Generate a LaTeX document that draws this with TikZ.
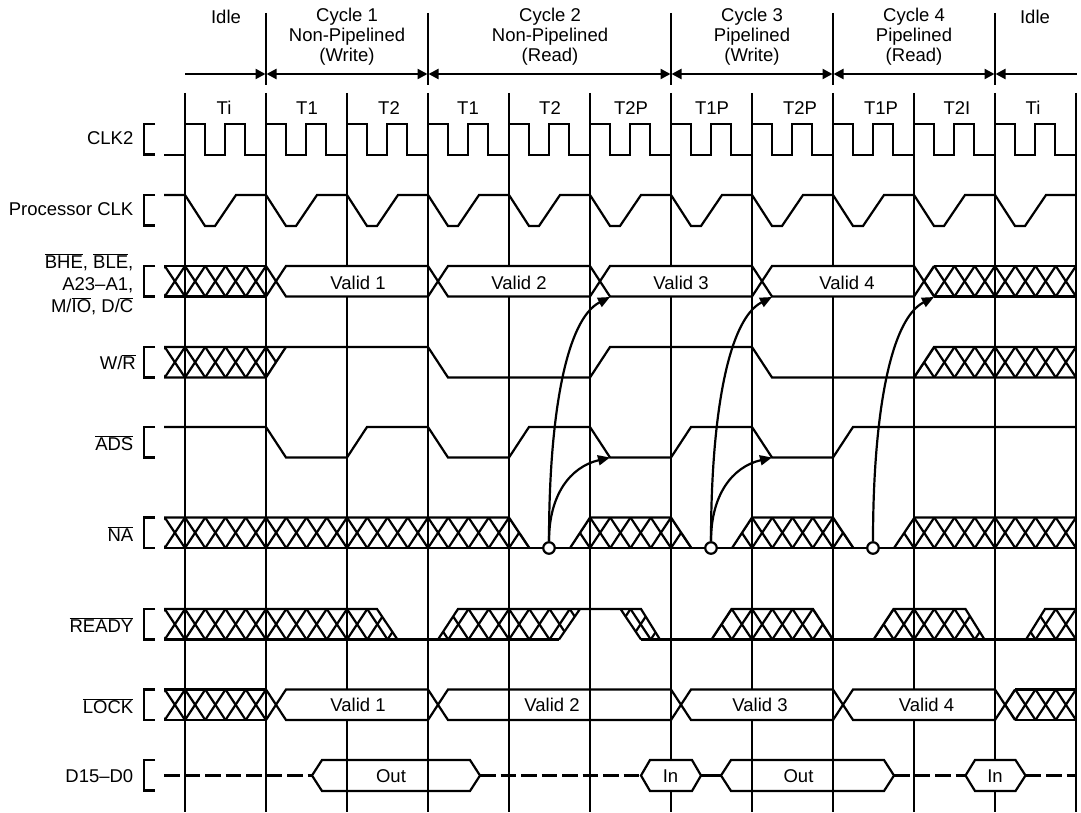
\documentclass[tikz,border=0pt]{standalone}
\usepackage{fontspec}
\setmainfont{Liberation Sans}
\usetikzlibrary{arrows.meta}
\newcommand{\ovl}[1]{$\overline{\mbox{#1}}$}
\tikzset{
  x=1pt,y=-1pt,
  sig/.style={line width=2.2pt,line join=miter,line cap=butt},
  gridline/.style={line width=2.1pt},
  lbl/.style={font=\fontsize{18.5}{20}\selectfont,inner sep=0pt},
  namel/.style={lbl,anchor=east,align=right},
  head/.style={lbl,align=center},
  arr/.style={line width=2.2pt,-{Triangle[length=12pt,width=10pt]}},
  harr/.style={line width=2.2pt,{Triangle[length=10pt,width=10pt]}-{Triangle[length=10pt,width=10pt]}},
  tip/.style={circle,draw,fill=white,line width=2.2pt,minimum size=11.5pt,inner sep=0pt},
  dashline/.style={sig,dash pattern=on 15.5pt off 5pt},
}
% \hatchband{top y}{clip polygon}
\newcommand{\hatchband}[2]{%
  \begin{scope}
    \clip #2;
    \foreach \k in {-2,...,46}{
      \draw[sig,line cap=round] ({185+20.25*\k},#1) -- ({185+20.25*(\k+1)},#1+30.5);
      \draw[sig,line cap=round] ({185+20.25*(\k+1)},#1) -- ({185+20.25*\k},#1+30.5);
    }
  \end{scope}}
% bracket at the left of a row
\newcommand{\rowbracket}[1]{\draw[sig] (155,#1) -- (144,#1) -- (144,#1+30.5) -- (155,#1+30.5);}
% white value box: x0 x1 top
\newcommand{\valbox}[3]{%
  \fill[white] (#1+1.2,#3) rectangle (#2-1.2,#3+30.5);
  \draw[sig] (#1,#3+30.5) -- (#1+20,#3) -- (#2,#3);
  \draw[sig] (#1,#3) -- (#1+20,#3+30.5) -- (#2,#3+30.5);}
\newcommand{\hexbox}[5]{% tipL topL topR tipR fill
  \ifx#5n\else\fill[white] (#1,775.5) -- (#2,760) -- (#3,760) -- (#4,775.5) -- (#3,791) -- (#2,791) -- cycle;\fi
  \draw[sig] (#1,775.5) -- (#2,760) -- (#3,760) -- (#4,775.5) -- (#3,791) -- (#2,791) -- cycle;}
\begin{document}
\begin{tikzpicture}
\useasboundingbox (0,0) rectangle (1081,813);
\fill[white] (0,0) rectangle (1081,813);

% vertical grid
\foreach \k in {0,...,11}{\draw[gridline] ({185+81*\k},93) -- ({185+81*\k},812);}
\foreach \x in {266,428,671,833,995}{\draw[gridline] (\x,13) -- (\x,85);}

% header arrows
\coordinate (h0) at (185,74); \coordinate (h1) at (265.5,74); \coordinate (h2) at (266.5,74);
\coordinate (h3) at (427.5,74); \coordinate (h4) at (428.5,74); \coordinate (h5) at (670.5,74);
\coordinate (h6) at (671.5,74); \coordinate (h7) at (832.5,74); \coordinate (h8) at (833.5,74);
\coordinate (h9) at (994.5,74); \coordinate (h10) at (995.5,74); \coordinate (h11) at (1077,74);
\draw[line width=2.2pt,-{Triangle[length=10pt,width=10pt]}] (h0) -- (h1);
\draw[harr] (h2) -- (h3);
\draw[harr] (h4) -- (h5);
\draw[harr] (h6) -- (h7);
\draw[harr] (h8) -- (h9);
\draw[line width=2.2pt,{Triangle[length=10pt,width=10pt]}-] (h10) -- (h11);

% header text
\node[head] (idleA) at (226,16.5) {Idle};
\node[head] (cyc1) at (347,36.5) {Cycle 1\\Non-Pipelined\\(Write)};
\node[head] (cyc2) at (550,36.5) {Cycle 2\\Non-Pipelined\\(Read)};
\node[head] (cyc3) at (752,36.5) {Cycle 3\\Pipelined\\(Write)};
\node[head] (cyc4) at (914,36.5) {Cycle 4\\Pipelined\\(Read)};
\node[head] (idleB) at (1035,17) {Idle};

% T states
\node[lbl] (t0) at (224,108) {Ti};
\node[lbl] (t1) at (307,108) {T1};
\node[lbl] (t2) at (389,108) {T2};
\node[lbl] (t3) at (468,108) {T1};
\node[lbl] (t4) at (550,108) {T2};
\node[lbl] (t5) at (631,108) {T2P};
\node[lbl] (t6) at (712,108) {T1P};
\node[lbl] (t7) at (800,108) {T2P};
\node[lbl] (t8) at (881,108) {T1P};
\node[lbl] (t9) at (957,108) {T2I};
\node[lbl] (t10) at (1033,108) {Ti};

% signal names
\node[namel] (nclk2) at (133.5,138) {CLK2};
\node[namel] (npclk) at (133.5,209) {Processor CLK};
\node[namel] (naddr) at (133.5,284.5) {\ovl{BHE}, \ovl{BLE},\\[2pt]A23–A1,\\[2pt]M/\ovl{IO}, D/\ovl{C}};
\node[namel] (nwr) at (136,362) {W/\ovl{R}};
\node[namel] (nads) at (133.5,443) {\ovl{ADS}};
\node[namel] (nna) at (133.5,534) {\ovl{NA}};
\node[namel] (nrdy) at (133.5,625) {\ovl{READY}};
\node[namel] (nlock) at (133.5,706) {\ovl{LOCK}};
\node[namel] (ndata) at (133.5,776) {D15–D0};

% brackets
\foreach \y in {124,195,266,347,427,517.5,609,689.5,760}{\rowbracket{\y}}

% CLK2
\draw[sig] (164,155) -- (185,155)
  \foreach \k in {0,...,10}{ -- ({185+81*\k},124) -- ({205+81*\k},124) -- ({205+81*\k},155) -- ({225+81*\k},155) -- ({225+81*\k},124) -- ({245+81*\k},124) -- ({245+81*\k},155) -- ({266+81*\k},155)};

% Processor CLK
\draw[sig] (164,195) -- (185,195)
  \foreach \k in {0,...,10}{ -- ({205+81*\k},226) -- ({215+81*\k},226) -- ({236+81*\k},195) -- ({266+81*\k},195)};

% Address / status row
\hatchband{266}{(164,266) rectangle (266,296.5)}
\draw[sig] (164,266) -- (266,266) (164,296.5) -- (266,296.5);
\valbox{266}{428}{266}
\valbox{428}{590}{266}
\valbox{590}{752}{266}
\valbox{752}{914}{266}
\draw[sig] (914,266) -- (934,296.5) (914,296.5) -- (934,266);
\hatchband{266}{(924,281.25) -- (934,266) -- (1076,266) -- (1076,296.5) -- (934,296.5) -- cycle}
\draw[sig] (934,266) -- (1076,266) (934,296.5) -- (1076,296.5);
\node[lbl] (v1) at (358,283) {Valid 1};
\node[lbl] (v2) at (519,283) {Valid 2};
\node[lbl] (v3) at (681,283) {Valid 3};
\node[lbl] (v4) at (847,283) {Valid 4};

% W/R
\hatchband{347}{(164,347) -- (286,347) -- (266,377.5) -- (164,377.5) -- cycle}
\draw[sig] (164,377.5) -- (266,377.5) -- (286,347);
\draw[sig] (164,347) -- (428,347) -- (448,377.5) -- (590,377.5) -- (610,347) -- (752,347) -- (772,377.5) -- (914,377.5);
\hatchband{347}{(914,377.5) -- (934,347) -- (1076,347) -- (1076,377.5) -- cycle}
\draw[sig] (914,377.5) -- (934,347) -- (1076,347) (914,377.5) -- (1076,377.5);

% ADS
\draw[sig] (164,427) -- (266,427) -- (286,457.5) -- (347,457.5) -- (367,427) -- (428,427) -- (448,457.5) -- (509,457.5) -- (529,427) -- (590,427) -- (610,457.5) -- (671,457.5) -- (691,427) -- (752,427) -- (772,457.5) -- (833,457.5) -- (853,427) -- (1076,427);

% NA
\hatchband{517.5}{(164,517.5) -- (509,517.5) -- (529.5,548) -- (164,548) -- cycle}
\hatchband{517.5}{(570,548) -- (590,517.5) -- (671,517.5) -- (691.5,548) -- cycle}
\hatchband{517.5}{(732,548) -- (752,517.5) -- (833,517.5) -- (853.5,548) -- cycle}
\hatchband{517.5}{(894,548) -- (914.5,517.5) -- (1076,517.5) -- (1076,548) -- cycle}
\draw[sig] (164,517.5) -- (509,517.5) -- (529.5,548) (570,548) -- (590,517.5) -- (671,517.5) -- (691.5,548) (732,548) -- (752,517.5) -- (833,517.5) -- (853.5,548) (894,548) -- (914.5,517.5) -- (1076,517.5);
\draw[sig] (164,548) -- (1076,548);

% READY
\hatchband{609}{(164,609) -- (377,609) -- (397.5,639.5) -- (164,639.5) -- cycle}
\hatchband{609}{(438,639.5) -- (458,609) -- (580,609) -- (559,639.5) -- cycle}
\hatchband{609}{(620.5,609) -- (641,609) -- (660,639.5) -- (641,639.5) -- cycle}
\hatchband{609}{(711.5,639.5) -- (731.5,609) -- (813,609) -- (833,639.5) -- cycle}
\hatchband{609}{(873.5,639.5) -- (893.5,609) -- (965.5,609) -- (984.5,639.5) -- cycle}
\hatchband{609}{(1026,639.5) -- (1045,609) -- (1076,609) -- (1076,639.5) -- cycle}
\draw[sig] (164,609) -- (377,609) -- (397.5,639.5) (438,639.5) -- (458,609) -- (641,609) -- (660,639.5) (620.5,609) -- (641,639.5) (559,639.5) -- (580,609) (711.5,639.5) -- (731.5,609) -- (813,609) -- (833,639.5) (873.5,639.5) -- (893.5,609) -- (965.5,609) -- (984.5,639.5) (1026,639.5) -- (1045,609) -- (1076,609);
\draw[sig] (164,639.5) -- (559,639.5) (641,639.5) -- (1076,639.5);

% LOCK
\hatchband{689.5}{(164,689.5) rectangle (266,720)}
\draw[sig] (164,689.5) -- (266,689.5) (164,720) -- (266,720);
\valbox{266}{428}{689.5}
% Valid 2 leaves the grid lines visible
\draw[sig] (428,720) -- (448,689.5) -- (671,689.5);
\draw[sig] (428,689.5) -- (448,720) -- (671,720);
\valbox{671}{833}{689.5}
\valbox{833}{995}{689.5}
\draw[sig] (995,689.5) -- (1015,720) (995,720) -- (1015,689.5);
\hatchband{689.5}{(1005,704.75) -- (1015,689.5) -- (1076,689.5) -- (1076,720) -- (1015,720) -- cycle}
\draw[sig] (1015,689.5) -- (1076,689.5) (1015,720) -- (1076,720);
\node[lbl] (l1) at (358,705) {Valid 1};
\node[lbl] (l2) at (552,705) {Valid 2};
\node[lbl] (l3) at (760,705) {Valid 3};
\node[lbl] (l4) at (926.5,705) {Valid 4};

% Data bus
\draw[dashline] (164,775.5) -- (312,775.5);
\draw[dashline] (480,775.5) -- (641,775.5);
\draw[sig] (701,775.5) -- (721,775.5);
\draw[dashline] (894,775.5) -- (965.5,775.5);
\draw[dashline] (1025.5,775.5) -- (1076,775.5);
\hexbox{312}{322}{470}{480}{n}
\hexbox{641}{650}{692}{701}{y}
\hexbox{721}{731}{884}{894}{n}
\hexbox{965.5}{975}{1015.5}{1025.5}{y}
\node[lbl] (d1) at (391,776) {Out};
\node[lbl] (d2) at (670.5,776) {In};
\node[lbl] (d3) at (798.5,776) {Out};
\node[lbl] (d4) at (995,776) {In};

% NA sampling points and arrows
\node[tip] (s1) at (549,548) {};
\node[tip] (s2) at (711,548) {};
\node[tip] (s3) at (873,548) {};
\coordinate (a1) at (610,297);
\coordinate (b1) at (610,457.5);
\coordinate (a2) at (772,297);
\coordinate (b2) at (772,457.5);
\coordinate (a3) at (934,297);
\draw[arr] (s1) .. controls (549,420) and (565,320) .. (a1);
\draw[arr] (s1) .. controls (549,495) and (570,467) .. (b1);
\draw[arr] (s2) .. controls (711,420) and (727,320) .. (a2);
\draw[arr] (s2) .. controls (711,495) and (732,467) .. (b2);
\draw[arr] (s3) .. controls (873,420) and (889,320) .. (a3);
\end{tikzpicture}
\end{document}
